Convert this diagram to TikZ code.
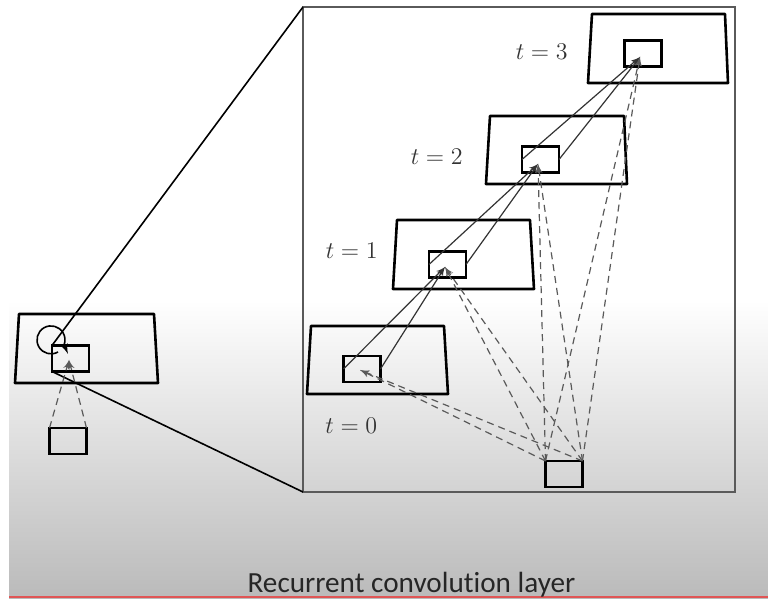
\documentclass[tikz,border=0pt]{standalone}
\usepackage{xcolor}
\usepackage{fontspec}
\newfontfamily\slidefont[Ligatures={NoCommon,NoContextual}]{Carlito}
\usepackage{pgf,tikz}
\usetikzlibrary{shapes}
\usetikzlibrary{arrows}
\tikzset{
  font={\fontsize{12pt}{14}\selectfont}}
\definecolor{linegray}{HTML}{333333}
\definecolor{framegray}{HTML}{5A5A5A}
\definecolor{slidegray}{HTML}{BABABA}
\definecolor{slidered}{HTML}{E05555}

\begin{document}
\begin{tikzpicture}[x=0.5pt, y=-0.5pt]

        \tikzset{edge/.style = {->,> = latex', draw=linegray, line width=0.6pt}}
        \tikzset{feed/.style = {edge, draw=framegray, dash pattern=on 3.5pt off 2.5pt}}
        \tikzset{plane/.style = {draw=black, line width=1.3pt, line join=round}}
        \tikzset{unit/.style = {draw=black, line width=1.3pt, minimum width=18.5pt, minimum height=13pt,
            inner sep=0pt, outer sep=0pt}}
        \tikzset{tlabel/.style = {inner sep=0pt, text=linegray}}

        % slide
        \useasboundingbox (0,0) rectangle (768,599);
        \fill[white] (0,0) rectangle (768,599);
        \shade[top color=white, bottom color=slidegray] (9,300) rectangle (768,599);
        \draw[slidered, line width=0.8pt] (9,597) -- (768,597);

        % planes
        \draw[plane] (15,383) -- (19,314) -- (154,314) -- (158,383) -- cycle;
        \draw[plane] (307,394) -- (311,326) -- (444,326) -- (448,394) -- cycle;
        \draw[plane] (393,289) -- (397,220) -- (530,220) -- (534,289) -- cycle;
        \draw[plane] (486,184) -- (490,116) -- (624,116) -- (627,184) -- cycle;
        \draw[plane] (588,83) -- (592,14) -- (725,14) -- (728,83) -- cycle;

        % vertices
        \node[draw=framegray, line width=0.9pt, minimum width=216pt, minimum height=242.5pt,
            inner sep=0pt, outer sep=0pt] (frame) at (519,249.5) {};

        \node[unit] (lb) at (70.5,358.5) {};
        \node[unit] (li) at (68,441) {};

        \node[unit] (b0) at (362,369) {};
        \node[unit] (b1) at (447.5,264.5) {};
        \node[unit] (b2) at (540.5,159.5) {};
        \node[unit] (b3) at (643,53.5) {};
        \node[unit] (in) at (564,474) {};

        \coordinate (tip0) at (360,370);
        \coordinate (tip1) at (445,267);
        \coordinate (tip2) at (538,164);
        \coordinate (tip3) at (640,57);
        \coordinate (tipl) at (69,360);
        \coordinate (loopend) at (68,354);

        \node[tlabel, anchor=west] (l0) at (325,426) {$t = 0$};
        \node[tlabel, anchor=east] (l1) at (378,251) {$t = 1$};
        \node[tlabel, anchor=east] (l2) at (463,157) {$t = 2$};
        \node[tlabel, anchor=east] (l3) at (568,52) {$t = 3$};

        \node[font={\slidefont\fontsize{14.6pt}{16}\selectfont}, text=black!85, anchor=base]
            (caption) at (411.5,593) {Recurrent convolution layer};

        %edges
        \draw[black, line width=0.8pt] (lb.north west) -- (frame.north west);
        \draw[black, line width=0.8pt] (lb.south west) -- (frame.south west);
        \draw[edge, draw=black, line width=0.8pt] (lb.center) ++(-12.5,-6.5)
            arc[start angle=60, end angle=380, radius=14] -- (loopend);
        \draw[feed] (li.north west) -- (tipl);
        \draw[feed] (li.north east) -- (tipl);

        \draw[edge] (b0.west) -- (tip1);
        \draw[edge] (b0.east) -- (tip1);
        \draw[edge] (b1.west) -- (tip2);
        \draw[edge] (b1.east) -- (tip2);
        \draw[edge] (b2.west) -- (tip3);
        \draw[edge] (b2.east) -- (tip3);

        \draw[feed] (in.north west) -- (tip0);
        \draw[feed] (in.north east) -- (tip0);
        \draw[feed] (in.north west) -- (tip1);
        \draw[feed] (in.north east) -- (tip1);
        \draw[feed] (in.north west) -- (tip2);
        \draw[feed] (in.north east) -- (tip2);
        \draw[feed] (in.north west) -- (tip3);
        \draw[feed] (in.north east) -- (tip3);

\end{tikzpicture}
\end{document}
